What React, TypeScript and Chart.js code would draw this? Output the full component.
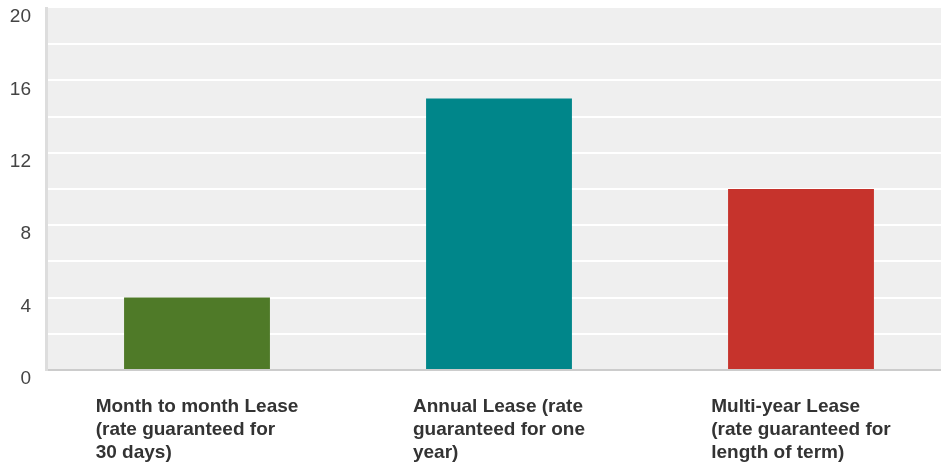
import React, { useEffect, useRef } from "react";
import { Chart, registerables } from "chart.js";

Chart.register(...registerables);

const categories = ["Month to month Lease", "Annual Lease", "Multi-year Lease"];
const categoryLines = [
  ["Month to month Lease", "(rate guaranteed for", "30 days)"],
  ["Annual Lease (rate", "guaranteed for one", "year)"],
  ["Multi-year Lease", "(rate guaranteed for", "length of term)"],
];
const values = [4, 15, 10];
const barColors = ["#4f7a28", "#00868a", "#c6332c"];
const yMin = 0;
const yMax = 20;
const gridStep = 2;
const labelStep = 4;

const FONT = "'Liberation Sans', Arial, sans-serif";

export default function App() {
  const ref = useRef<HTMLCanvasElement | null>(null);

  useEffect(() => {
    document.body.style.margin = "0";
    const canvas = ref.current;
    if (!canvas) return;

    const bgPlugin = {
      id: "plotBg",
      beforeDraw(chart: any) {
        const { ctx, chartArea } = chart;
        ctx.save();
        ctx.fillStyle = "#efefef";
        ctx.fillRect(chartArea.left, chartArea.top, chartArea.right - chartArea.left, chartArea.bottom - chartArea.top);
        ctx.restore();
      },
    };

    const xLabelPlugin = {
      id: "xLabels",
      afterDraw(chart: any) {
        const { ctx } = chart;
        const xs = chart.scales.x;
        ctx.save();
        ctx.font = `bold 19px ${FONT}`;
        ctx.fillStyle = "#333333";
        ctx.textAlign = "left";
        ctx.textBaseline = "middle";
        categoryLines.forEach((lines, i) => {
          const cx = xs.getPixelForValue(i);
          const w = Math.max(...lines.map((l) => ctx.measureText(l).width));
          const left = cx - w / 2;
          lines.forEach((line, j) => {
            ctx.fillText(line, left, chart.chartArea.bottom + 37 + j * 23);
          });
        });
        ctx.restore();
      },
    };

    const chart = new Chart(canvas, {
      type: "bar",
      data: {
        labels: categories,
        datasets: [
          {
            data: values,
            backgroundColor: barColors,
            borderWidth: 0,
            categoryPercentage: 1,
            barPercentage: 0.483,
          },
        ],
      },
      options: {
        animation: false,
        responsive: true,
        maintainAspectRatio: false,
        layout: { padding: { top: 8, bottom: 100, left: 0, right: 0 } },
        plugins: {
          legend: { display: false },
          tooltip: { enabled: false },
        },
        scales: {
          x: {
            grid: { display: false },
            border: { display: true, color: "#cccccc", width: 2 },
            ticks: { display: false },
            afterFit(scale: any) {
              scale.height = 0;
            },
          },
          y: {
            min: yMin,
            max: yMax,
            grid: {
              color: (c: any) =>
                c.tick && (c.tick.value === yMin || c.tick.value === yMax) ? "rgba(0,0,0,0)" : "#ffffff",
              lineWidth: 2,
              drawTicks: false,
            },
            border: { display: true, color: "#dddddd", width: 3 },
            ticks: {
              stepSize: gridStep,
              padding: 15,
              labelOffset: 9,
              color: "#444444",
              font: { family: FONT, size: 19 },
              callback: (v: any) => (Number(v) % labelStep === 0 ? String(v) : ""),
            },
            afterFit(scale: any) {
              scale.width = 46;
              scale.paddingTop = 0;
              scale.paddingBottom = 0;
            },
          },
        },
      },
      plugins: [bgPlugin, xLabelPlugin],
    });

    return () => chart.destroy();
  }, []);

  return (
    <div style={{ position: "absolute", left: 0, top: 0, width: 941, height: 470, overflow: "hidden" }}>
      <div style={{ position: "relative", width: 952, height: 470 }}>
        <canvas ref={ref} />
      </div>
    </div>
  );
}
